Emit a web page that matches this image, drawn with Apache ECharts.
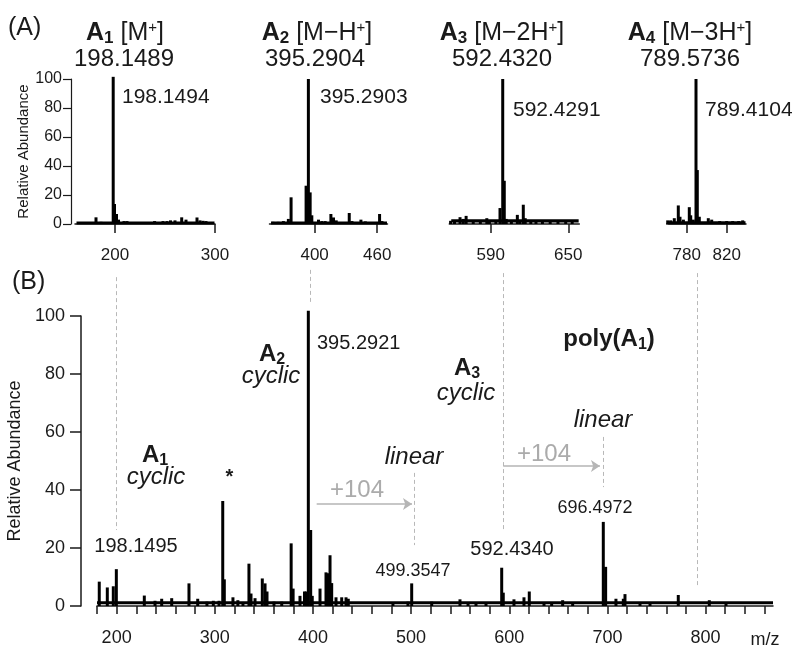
<!DOCTYPE html>
<html><head><meta charset="utf-8">
<script src="https://cdn.jsdelivr.net/npm/echarts@6/dist/echarts.min.js"></script>
<style>html,body{margin:0;padding:0;background:#fff}#c{width:792px;height:650px}</style>
</head><body><div id="c"></div>
<script>
// ---------- data ----------
// (B) full spectrum: [m/z, relative abundance]
const mainPeaks = [
[182.3,8.4],[190.5,6.4],[196.6,6.8],[199.7,12.7],[228.2,3.6],[239.1,1.8],[245.9,2.5],[256.1,2.7],
[273.7,7.8],[282.6,2.5],[292,1.5],[298.5,1.8],[304.3,1.8],[308.1,36.2],[309.7,9.2],[318.5,3],
[323.5,2],[328.7,1.4],[334.8,14.6],[336.9,4.3],[341,2.7],[348.4,9.5],[351.2,7.8],[353.2,5],
[360.3,1.5],[368.2,1.5],[377.8,21.6],[379.8,6],[386.8,3.5],[391.4,5],[393,5],[395.3,101.8],
[397.7,26.2],[399.3,3.5],[407.2,6],[413.3,11.6],[415,11.3],[417.4,17.5],[419.1,7.9],[423.5,3],
[429.3,3],[433.7,3],[436,2.5],[481.5,1.2],[496.8,1.5],[500.6,7.8],[521,1.5],[549.8,2.3],
[558,1.2],[566.1,1.2],[576.3,1.2],[592.3,13.2],[593.9,4.6],[604.8,2.3],[615,3],[620.4,5],
[635.4,1.2],[643.2,1.2],[654.4,2],[664.6,1.2],[695.8,29],[698.2,13.5],[708.7,2.5],[716.2,2.5],
[717.9,4.1],[733.2,1.2],[743.4,1.2],[772.2,3.8],[803.8,2],[820.8,1.2]
];
const mainBaseline = [[180,1.1],[868.7,1.1]];
// (A) zoomed panels
const panelA1 = [[181,4.6],[186,1.5],[198.2,101.5],[199.5,13.8],[201.5,6.9],[203.5,3],[209,2],[212,2],
[226,1.2],[239.6,2],[248,2],[252,2],[255.5,2.5],[260,2.5],[266.7,4.6],[271,3],[282,4.5],[285,2.5],[288,2.2],[291,2]];
const panelA2 = [[360,1.5],[365,1.5],[370,2],[374.8,3.5],[377.4,18.4],[391.8,26.4],[394.0,100],[395.7,21.8],
[397.3,6],[403.7,3],[406.9,2],[410.1,2],[415.6,6.9],[418.1,4.5],[420.7,2.5],[433.2,7.6],[435.8,2],[444.4,3],
[448.6,1.8],[462.3,6.9],[464.6,2]];
const panelA3 = [[559,2.2],[562,2.5],[566.3,4.7],[568.8,3.5],[571,5.6],[576.5,2.2],[582,1.8],[587,4],[589,2.5],
[594,2.2],[597.2,11],[599.3,100],[600.5,29.8],[602,3.5],[606,2.5],[610.6,6.3],[612.6,2.5],[615.2,13.3],[616.7,4],
[621,2.5],[625,2.5],[630,2],[636,2],[642,2],[648,2],[653,2.5]];
const panelA4 = [[761,2.5],[764,2.5],[767.6,4],[771.6,12.8],[773.3,5],[776.7,3],[782.6,11.6],[784,6],[786.6,3],
[789.3,100],[790.6,37.2],[792.6,5],[801.6,4],[805,3],[813,2],[820,2],[826,2],[832,2],[836,2.5]];
const panelBaselineLevels = [0.7, 0.7, 2.2, 0.8];
// tick values / labels
const mainTicks = [180,200,220,240,260,280,300,320,340,360,380,400,420,440,460,480,500,520,540,560,580,600,620,640,660,680,700,720,740,760,780,800,820,840,860];
const mainTickLabels = [200,300,400,500,600,700,800];
const yTicks = [0,20,40,60,80,100];
const panelTicks = [[200,300],[400,460],[590,650],[780,820]];
// guide lines (m/z, from abundance, to abundance) in the main frame, and +104 arrows (from m/z, to m/z, level)
const guideLines = [[199.7,113.4,26.2],[397,115.9,104.8],[593.9,114.8,26.2],[791.9,114.8,6.6],[503,45.9,21],[695.8,58.3,41]];
const shiftArrows = [[403.8,500.9,35.2],[593.9,692.4,48.3]];

// ---------- layout ----------
const FONT = '"Liberation Sans", Arial, Helvetica, sans-serif';
const INK = '#1a1a1a';
const panels = [
  {data: panelA1, left: 75, width: 140, min: 160, max: 300},
  {data: panelA2, left: 269.5, width: 118, min: 356.7, max: 469.9},
  {data: panelA3, left: 449.3, width: 130, min: 558, max: 658.5},
  {data: panelA4, left: 666.7, width: 79.3, min: 760, max: 839.3}
];
const grid = [
  {left: 97, top: 316, width: 676, height: 290, outerBoundsMode: 'none'}
];
const xAxis = [{
  gridIndex: 0, type: 'value', min: 180, max: 868.7, offset: 8,
  axisLine: {show: true, lineStyle: {color: INK, width: 1.5}},
  axisTick: {show: true, customValues: mainTicks, length: 8, lineStyle: {color: INK, width: 1.5}},
  axisLabel: {customValues: mainTickLabels, fontSize: 18, fontFamily: FONT, color: INK, margin: 15},
  splitLine: {show: false}
}];
const yAxis = [{
  gridIndex: 0, type: 'value', min: 0, max: 100, interval: 20, offset: 16,
  axisLine: {show: true, lineStyle: {color: INK, width: 1.5}},
  axisTick: {show: true, length: 11, lineStyle: {color: INK, width: 1.5}},
  axisLabel: {fontSize: 18, fontFamily: FONT, color: INK, margin: 16, customValues: yTicks},
  splitLine: {show: false},
  name: 'Relative Abundance', nameLocation: 'middle', nameGap: 48,
  nameTextStyle: {fontSize: 18, fontFamily: FONT, color: INK}
}];
const series = [
  {type: 'bar', xAxisIndex: 0, yAxisIndex: 0, data: mainPeaks, barWidth: 3, clip: false,
   itemStyle: {color: '#000'}, silent: true},
  {type: 'line', xAxisIndex: 0, yAxisIndex: 0, data: mainBaseline, symbol: 'none',
   lineStyle: {color: '#000', width: 3}, silent: true}
];
panels.forEach((p, i) => {
  const gi = i + 1;
  grid.push({left: p.left, top: 79, width: p.width, height: 145, outerBoundsMode: 'none'});
  xAxis.push({
    gridIndex: gi, type: 'value', min: p.min, max: p.max, offset: 7,
    axisLine: {show: true, lineStyle: {color: INK, width: 1.5}},
    axisTick: {show: true, customValues: panelTicks[i], length: 9, lineStyle: {color: INK, width: 1.5}},
    axisLabel: {customValues: panelTicks[i], fontSize: 17, fontFamily: FONT, color: INK, margin: 16},
    splitLine: {show: false}
  });
  yAxis.push(i === 0 ? {
    gridIndex: gi, type: 'value', min: 0, max: 100, interval: 20, offset: 4,
    axisLine: {show: true, lineStyle: {color: INK, width: 1.2}},
    axisTick: {show: true, length: 8, lineStyle: {color: INK, width: 1.2}},
    axisLabel: {fontSize: 16, fontFamily: FONT, color: INK, margin: 9, customValues: yTicks},
    splitLine: {show: false},
    name: 'Relative Abundance', nameLocation: 'middle', nameGap: 39,
    nameTextStyle: {fontSize: 15, fontFamily: FONT, color: INK}
  } : {gridIndex: gi, type: 'value', min: 0, max: 100, show: false});
  series.push({type: 'bar', xAxisIndex: gi, yAxisIndex: gi, data: p.data, barWidth: 3, clip: false,
    itemStyle: {color: '#000'}, silent: true});
  series.push({type: 'line', xAxisIndex: gi, yAxisIndex: gi,
    data: [[p.min + 1.5, panelBaselineLevels[i]], [p.max - 0.5, panelBaselineLevels[i]]],
    symbol: 'none', lineStyle: {color: '#000', width: 3.2}, silent: true});
});
// overlay frame for guide lines (same x mapping as the main spectrum, same units on y)
grid.push({left: 97, top: 258, width: 676, height: 348, outerBoundsMode: 'none'});
xAxis.push({gridIndex: 5, type: 'value', min: 180, max: 868.7, show: false});
yAxis.push({gridIndex: 5, type: 'value', min: 0, max: 120, show: false});
series.push({
  type: 'lines', coordinateSystem: 'cartesian2d', xAxisIndex: 5, yAxisIndex: 5, silent: true,
  data: guideLines.map(g => ({coords: [[g[0], g[1]], [g[0], g[2]]]})),
  symbol: 'none', lineStyle: {color: '#b8b8b8', width: 1, type: [4, 3], opacity: 1}
});
series.push({
  type: 'lines', coordinateSystem: 'cartesian2d', xAxisIndex: 5, yAxisIndex: 5, silent: true,
  data: shiftArrows.map(a => ({coords: [[a[0], a[2]], [a[1], a[2]]]})),
  symbol: ['none', 'arrow'], symbolSize: [7, 9],
  lineStyle: {color: '#b5b5b5', width: 1.5, opacity: 1}
});

// ---------- annotations ----------
function rich(F, color) {
  const c = color || INK;
  return {
    b: {fontFamily: FONT, fontSize: F, fontWeight: 'bold', fill: c, color: c},
    n: {fontFamily: FONT, fontSize: F, fill: c, color: c},
    i: {fontFamily: FONT, fontSize: F, fontStyle: 'italic', fill: c, color: c},
    s: {fontFamily: FONT, fontSize: Math.round(F * 0.66), fontWeight: 'bold', fill: c, color: c, padding: [Math.round(F * 0.45), 0, 0, 0]},
    p: {fontFamily: FONT, fontSize: Math.round(F * 0.6), fill: c, color: c, padding: [0, 0, Math.round(F * 0.45), 0]}
  };
}
function txt(text, x, y, F, align, color) {
  return {type: 'text', x: x, y: y, silent: true,
    style: {text: text, rich: rich(F, color), fontFamily: FONT, fontSize: F, fill: color || INK,
      align: align || 'center', verticalAlign: 'middle'}};
}
const graphics = [
  txt('{n|(A)}', 8, 28, 25, 'left'),
  txt('{n|(B)}', 12, 282, 25, 'left'),
  txt('{b|A}{s|1}{n| [M}{p|+}{n|]}', 125, 33, 25),
  txt('{n|198.1489}', 124, 59, 24),
  txt('{b|A}{s|2}{n| [M−H}{p|+}{n|]}', 317, 33, 25),
  txt('{n|395.2904}', 315, 59, 24),
  txt('{b|A}{s|3}{n| [M−2H}{p|+}{n|]}', 502, 33, 25),
  txt('{n|592.4320}', 502, 59, 24),
  txt('{b|A}{s|4}{n| [M−3H}{p|+}{n|]}', 690, 33, 25),
  txt('{n|789.5736}', 690, 59, 24),
  txt('{n|198.1494}', 122, 97, 21, 'left'),
  txt('{n|395.2903}', 320, 97, 21, 'left'),
  txt('{n|592.4291}', 513, 110, 21, 'left'),
  txt('{n|789.4104}', 705, 110, 21, 'left'),
  txt('{n|395.2921}', 317, 343, 20, 'left'),
  txt('{b|A}{s|2}', 272, 354, 24),
  txt('{i|cyclic}', 271, 376, 24),
  txt('{b|A}{s|1}', 155, 455, 24),
  txt('{i|cyclic}', 156, 477, 24),
  txt('{b|A}{s|3}', 467, 368, 24),
  txt('{i|cyclic}', 466, 393, 24),
  txt('{b|poly(A}{s|1}{b|)}', 609, 339, 24),
  txt('{b|*}', 229.5, 477, 20),
  txt('{n|+104}', 357, 490, 24, 'center', '#ababab'),
  txt('{n|+104}', 544, 454, 24, 'center', '#ababab'),
  txt('{i|linear}', 414, 457, 24),
  txt('{i|linear}', 603, 420, 24),
  txt('{n|198.1495}', 136, 546, 20),
  txt('{n|499.3547}', 413, 571, 18),
  txt('{n|592.4340}', 512, 549, 20),
  txt('{n|696.4972}', 595, 508, 18),
  txt('{n|m/z}', 765, 640, 18)
];

const chart = echarts.init(document.getElementById('c'), null, {renderer: 'canvas'});
chart.setOption({
  animation: false,
  backgroundColor: '#fff',
  grid: grid, xAxis: xAxis, yAxis: yAxis, series: series,
  graphic: graphics
});
</script></body></html>
